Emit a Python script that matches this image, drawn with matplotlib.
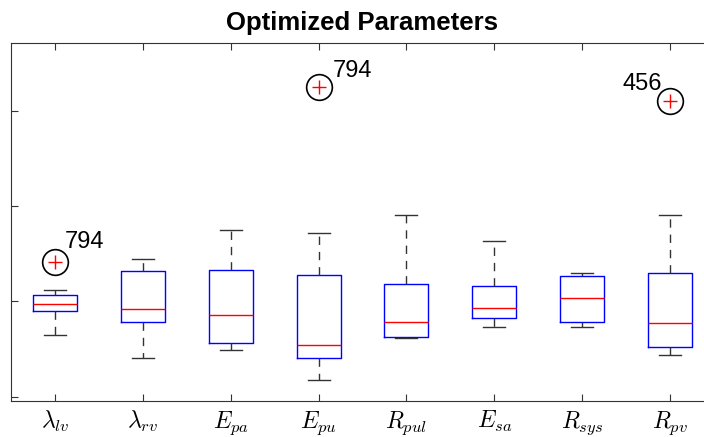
import matplotlib
matplotlib.use("Agg")
import matplotlib.pyplot as plt

plt.rcParams['mathtext.fontset'] = 'cm'
plt.rcParams['font.family'] = ['Liberation Sans', 'DejaVu Sans']

labels = [r'$\lambda_{lv}$', r'$\lambda_{rv}$', r'$E_{pa}$', r'$E_{pu}$',
          r'$R_{pul}$', r'$E_{sa}$', r'$R_{sys}$', r'$R_{pv}$']
whislo = [0.647, 0.403, 0.490, 0.175, 0.616, 0.731, 0.728, 0.434]
q1     = [0.896, 0.781, 0.560, 0.403, 0.626, 0.829, 0.784, 0.522]
med    = [0.976, 0.920, 0.854, 0.542, 0.784, 0.931, 1.036, 0.773]
q3     = [1.064, 1.322, 1.326, 1.274, 1.186, 1.158, 1.267, 1.295]
whishi = [1.119, 1.445, 1.746, 1.721, 1.907, 1.634, 1.301, 1.910]
outlier_box = [1, 4, 8]
outlier_val = [1.417, 3.253, 3.106]
outlier_lbl = ['794', '794', '456']

# label offsets (points) and alignment, styling only
lbl_off = [(6.8, 10.0), (10.0, 7.2), (-5.8, 7.7)]
lbl_ha = ['left', 'left', 'right']

fig = plt.figure(figsize=(7.04, 4.37), dpi=100)
ax = fig.add_axes([11/704, 36/437, 703/704, 358/437])

stats = []
for i in range(len(labels)):
    fl = [outlier_val[k] for k in range(len(outlier_box)) if outlier_box[k] == i + 1]
    stats.append(dict(whislo=whislo[i], q1=q1[i], med=med[i], q3=q3[i],
                      whishi=whishi[i], fliers=fl, label=labels[i]))

ax.bxp(stats, positions=range(1, len(labels) + 1), widths=0.5, capwidths=0.25,
       boxprops=dict(color='#0000ff', linewidth=1.0),
       medianprops=dict(color='#ff0000', linewidth=1.0),
       whiskerprops=dict(color='#333333', linewidth=1.0, linestyle=(0, (6, 5))),
       capprops=dict(color='#333333', linewidth=1.0),
       flierprops=dict(marker='+', markeredgecolor='#ff0000', markersize=10,
                       markeredgewidth=1.0, linestyle='none'))

for k in range(len(outlier_box)):
    x = outlier_box[k]
    y = outlier_val[k]
    ax.plot([x], [y], marker='o', markersize=18.5, markerfacecolor='none',
            markeredgecolor='black', markeredgewidth=1.2, linestyle='none')
    ax.annotate(outlier_lbl[k], (x, y), xytext=lbl_off[k], textcoords='offset points',
                ha=lbl_ha[k], va='baseline', fontsize=17)

ax.set_xlim(0.5, len(labels) + 0.5)
ax.set_ylim(-0.045, 3.711)
ax.set_yticks([0, 1, 2, 3])
ax.set_yticklabels([])
ax.set_xticks(range(1, len(labels) + 1))
ax.set_xticklabels(labels, fontsize=17)
ax.tick_params(direction='in', length=5, width=0.8, color='#333333',
               top=True, right=True, pad=6)
for s in ax.spines.values():
    s.set_color('#333333')
    s.set_linewidth(0.8)

ax.set_title('Optimized Parameters', fontsize=18.5, fontweight='bold', pad=9.6)

fig.savefig('out.png', dpi=100)
